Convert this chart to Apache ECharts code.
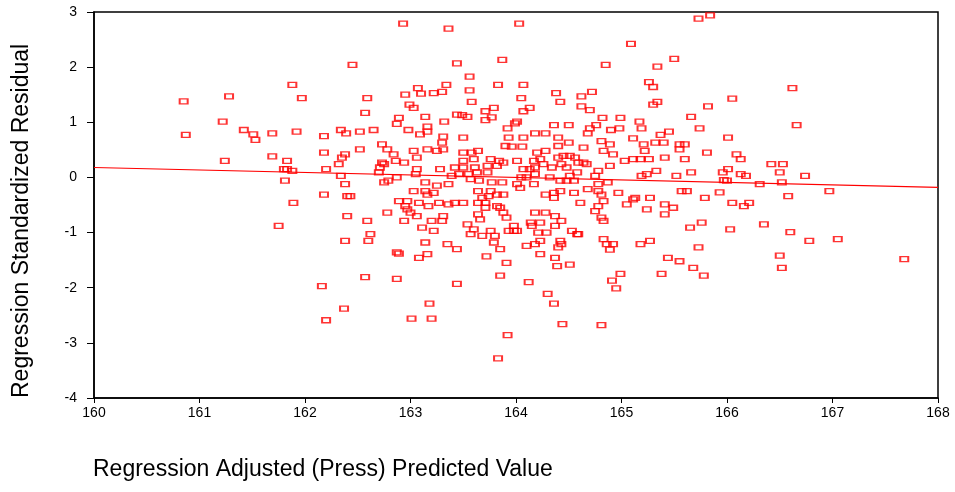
<!DOCTYPE html>
<html>
<head>
<meta charset="utf-8">
<script src="https://cdn.jsdelivr.net/npm/echarts@6/dist/echarts.min.js"></script>
<style>
html,body{margin:0;padding:0;background:#fff;}
#chart{width:955px;height:492px;}
</style>
</head>
<body>
<div id="chart"></div>
<script>
// Regression Adjusted (Press) Predicted Value
const predicted = [
160.85,161.28,161.88,161.97,161.22,160.87,161.42,161.51,161.69,161.92,161.53,
161.24,161.69,161.83,161.80,161.83,161.88,161.81,161.89,161.75,
162.93,163.36,162.45,163.44,163.87,163.56,163.83,163.34,163.07,163.56,163.30,163.22,163.10,162.95,
162.59,163.58,162.99,163.03,163.79,162.57,163.14,163.44,163.49,163.54,163.71,163.77,163.71,162.89,162.87,163.32,163.16,162.98,163.16,163.09,
162.18,162.34,162.39,162.52,162.65,163.31,163.50,163.92,163.93,
164.03,165.73,165.84,165.09,165.50,164.85,165.34,165.26,165.30,164.07,164.05,164.38,164.42,164.62,164.72,
164.13,164.07,164.62,164.70,165.30,165.34,165.82,165.66,164.82,164.99,165.17,164.01,163.99,164.36,164.50,
164.76,164.70,164.68,164.90,164.98,165.19,165.74,165.45,165.37,164.18,164.28,164.07,164.40,165.11,166.01,
166.62,166.05,166.66,
166.09,166.13,166.42,166.53,166.50,166.74,166.01,165.96,166.13,166.18,165.97,166.00,166.31,166.52,
166.97,166.58,165.93,166.05,166.16,166.21,166.03,166.35,166.60,166.78,167.05,167.68,166.50,166.52,
162.73,162.78,162.84,162.18,162.38,162.35,162.52,162.32,162.20,162.73,162.75,162.71,162.70,162.86,162.94,
163.03,163.06,163.16,163.25,163.31,163.30,163.50,163.58,163.64,163.60,163.50,163.76,163.84,163.88,163.90,
163.73,163.82,163.28,163.42,163.50,163.61,163.06,163.05,163.39,163.46,163.55,163.63,163.73,162.34,162.38,
162.87,162.79,162.75,163.14,163.25,163.36,163.57,163.65,163.77,163.87,163.03,163.14,163.16,163.22,163.64,
163.76,163.82,163.88,163.74,163.68,162.18,162.40,162.43,162.89,162.97,163.08,163.17,163.27,163.36,163.42,
163.50,162.95,162.97,163.00,163.64,163.71,163.82,163.71,163.85,163.88,163.64,163.66,163.91,162.40,162.78,
163.06,163.31,162.59,162.94,163.20,163.30,163.11,163.22,163.54,163.60,163.57,163.68,163.76,163.80,162.62,
162.60,162.38,163.14,163.35,163.44,163.79,163.85,162.87,162.89,163.16,163.08,163.72,163.91,
163.96,164.06,164.20,164.28,164.40,164.50,164.64,164.81,164.89,164.83,164.92,165.21,165.32,165.40,165.22,
165.55,165.60,165.55,165.81,165.41,165.60,165.03,165.11,165.18,165.26,164.01,164.17,164.23,164.26,164.40,
164.45,164.51,164.56,164.43,164.59,164.64,164.67,164.34,164.48,164.18,164.13,164.07,164.89,164.78,164.75,
164.58,164.51,164.32,164.42,164.48,164.55,164.18,164.10,164.05,164.17,164.01,164.04,164.68,164.78,164.87,
165.19,165.24,165.33,165.52,165.66,165.57,165.62,165.79,164.78,164.81,164.83,164.97,164.55,164.42,164.36,
164.28,164.36,165.13,165.11,165.27,165.05,165.41,165.49,165.24,165.41,164.61,164.78,164.75,164.81,164.83,
164.18,164.28,164.37,164.43,164.23,164.14,164.15,164.37,163.98,163.93,163.98,164.01,164.21,164.29,164.53,
164.58,164.59,164.23,164.18,164.10,164.42,164.43,164.40,164.83,164.86,164.92,164.89,165.18,165.27,165.65,
165.76,165.73,164.23,164.37,164.51,164.39,165.44,165.55,165.68,
162.16,162.57,162.87,163.44,163.85,162.37,162.20,163.18,163.01,163.20,163.92,163.83,
164.12,164.30,164.36,164.44,164.81,164.99,164.91,164.95,165.38,165.78
];
// Regression Standardized Residual
const residual = [
1.38,1.47,1.68,1.44,1.01,0.77,0.86,0.78,0.80,0.83,0.68,
0.30,0.38,0.30,0.15,0.15,0.12,-0.06,-0.46,-0.88,
2.79,2.70,2.04,2.07,2.13,1.83,1.68,1.68,1.62,1.58,1.55,1.53,1.52,1.50,
1.44,1.37,1.32,1.26,1.26,1.17,1.10,1.14,1.13,1.10,1.20,1.09,1.04,1.08,0.97,1.01,0.92,0.86,0.83,0.78,
0.75,0.86,0.80,0.83,0.86,0.74,0.72,0.89,0.72,
2.79,2.88,2.94,2.42,2.15,2.04,2.01,1.73,1.64,1.68,1.44,1.53,1.37,1.47,1.55,
1.26,1.20,1.29,1.22,1.32,1.37,1.29,1.10,1.08,1.08,1.01,1.01,0.98,0.95,0.95,
0.95,0.89,0.80,0.86,0.89,0.89,0.89,0.83,0.77,0.80,0.80,0.72,0.72,0.71,0.72,
1.62,1.43,0.95,
0.42,0.33,0.24,0.24,0.09,0.03,0.15,0.09,0.06,0.03,-0.05,-0.06,-0.12,-0.09,
-0.25,-0.34,-0.27,-0.46,-0.52,-0.46,-0.94,-0.85,-0.99,-1.15,-1.12,-1.48,-1.42,-1.64,
0.60,0.51,0.42,0.45,0.42,0.36,0.51,0.24,0.15,0.27,0.24,0.18,0.09,0.30,0.27,
0.48,0.36,0.51,0.48,0.51,0.63,0.45,0.45,0.48,0.33,0.30,0.33,0.30,0.27,0.57,
0.21,0.21,0.15,0.18,0.18,0.18,0.15,0.06,0.03,0.06,0.06,0.09,0.09,0.03,-0.12,
0.00,-0.06,-0.09,-0.09,-0.15,-0.12,-0.03,-0.06,-0.09,-0.09,-0.25,-0.25,-0.31,-0.28,-0.25,
-0.25,-0.31,-0.31,-0.34,-0.37,-0.31,-0.34,-0.34,-0.43,-0.43,-0.46,-0.52,-0.46,-0.49,-0.46,
-0.46,-0.52,-0.58,-0.64,-0.46,-0.46,-0.52,-0.55,-0.55,-0.64,-0.67,-0.76,-0.73,-0.70,-0.64,
-0.70,-0.70,-0.79,-0.79,-0.79,-0.79,-0.91,-0.97,-0.85,-0.94,-1.03,-1.06,-0.97,-1.06,-1.03,
-1.15,-1.15,-1.18,-1.21,-1.30,-1.18,-1.30,-1.36,-1.38,-1.39,-1.46,-1.43,-1.55,
0.56,0.56,0.45,0.48,0.57,0.63,0.54,0.66,0.60,0.48,0.42,0.60,0.63,0.63,0.48,
0.60,0.60,0.51,0.45,0.36,0.33,0.30,0.33,0.33,0.33,0.30,0.30,0.33,0.24,0.36,
0.39,0.39,0.36,0.24,0.27,0.27,0.24,0.18,0.18,0.18,0.15,0.15,0.21,0.12,0.03,
0.09,0.03,0.00,-0.06,-0.06,-0.06,0.06,0.00,0.00,-0.12,-0.12,-0.19,-0.21,-0.12,-0.09,
0.03,0.06,0.12,0.03,0.09,-0.25,-0.25,-0.37,-0.25,-0.31,-0.43,-0.28,-0.28,-0.25,-0.28,
-0.31,-0.37,-0.37,-0.40,-0.37,-0.49,-0.49,-0.55,-0.58,-0.67,-0.46,-0.52,-0.61,-0.73,-0.79,
-0.64,-0.64,-0.70,-0.79,-0.82,-0.82,-0.88,-0.88,-0.88,-0.97,-0.97,-0.97,-1.00,-1.00,-0.97,
-1.03,-1.03,-1.15,-1.21,-1.24,-1.15,-1.21,-1.27,-1.12,-1.21,-1.21,-1.31,-1.21,-1.15,-0.91,
-0.82,-1.27,-1.39,-1.46,-1.58,-1.61,-1.46,-1.52,-1.64,
-1.97,-1.81,-1.84,-1.93,-1.78,-2.38,-2.59,-2.29,-2.56,-2.56,-2.86,-3.28,
-1.90,-2.11,-2.29,-2.66,-2.68,-1.75,-1.87,-2.01,-1.75,-1.78
];
// Fit line end points
const fitX = [160, 168];
const fitY = [0.18, -0.18];
// Axis ticks
const xTicks = {min: 160, max: 168, step: 1};
const yTicks = {min: -4, max: 3, step: 1};
// Titles
const xTitle = 'Regression Adjusted (Press) Predicted Value';
const yTitle = 'Regression Standardized Residual';

const n = Math.min(predicted.length, residual.length);
const scatterData = [];
for (let i = 0; i < n; i++) scatterData.push([predicted[i], residual[i]]);
const lineData = fitX.map((x, i) => [x, fitY[i]]);

const FONT = '"Liberation Sans", Arial, Helvetica, sans-serif';
const chart = echarts.init(document.getElementById('chart'), null, {renderer: 'canvas'});
chart.setOption({
  animation: false,
  backgroundColor: '#fff',
  grid: {left: 94, right: 17, top: 12, bottom: 94, show: true, borderColor: '#000', borderWidth: 1.5, backgroundColor: 'transparent'},
  xAxis: {
    type: 'value', min: xTicks.min, max: xTicks.max, interval: xTicks.step,
    axisLine: {show: true, onZero: false, lineStyle: {color: '#000', width: 1.5}},
    axisTick: {show: true, length: 5, lineStyle: {color: '#000', width: 1}},
    splitLine: {show: false},
    axisLabel: {color: '#000', fontSize: 14, fontFamily: FONT, margin: 8}
  },
  yAxis: {
    type: 'value', min: yTicks.min, max: yTicks.max, interval: yTicks.step,
    axisLine: {show: true, onZero: false, lineStyle: {color: '#000', width: 1.5}},
    axisTick: {show: true, length: 7, lineStyle: {color: '#000', width: 1}},
    splitLine: {show: false},
    axisLabel: {color: '#000', fontSize: 14, fontFamily: FONT, margin: 17}
  },
  graphic: [
    {
      type: 'text', left: 93, top: 458,
      style: {text: xTitle, fill: '#000', font: '23px ' + FONT}
    },
    {
      type: 'text', x: 22, y: 398, rotation: Math.PI / 2,
      style: {text: yTitle, fill: '#000', font: '23px ' + FONT, align: 'left', verticalAlign: 'middle'}
    }
  ],
  series: [
    {
      type: 'line', data: lineData, symbol: 'none', silent: true, z: 1,
      lineStyle: {color: '#ff0000', width: 1.2}
    },
    {
      type: 'scatter', data: scatterData, symbol: 'rect', symbolSize: [8, 5], z: 2,
      itemStyle: {color: 'rgba(255,255,255,0)', borderColor: '#ff0000', borderWidth: 1.6}
    }
  ]
});
</script>
</body>
</html>
